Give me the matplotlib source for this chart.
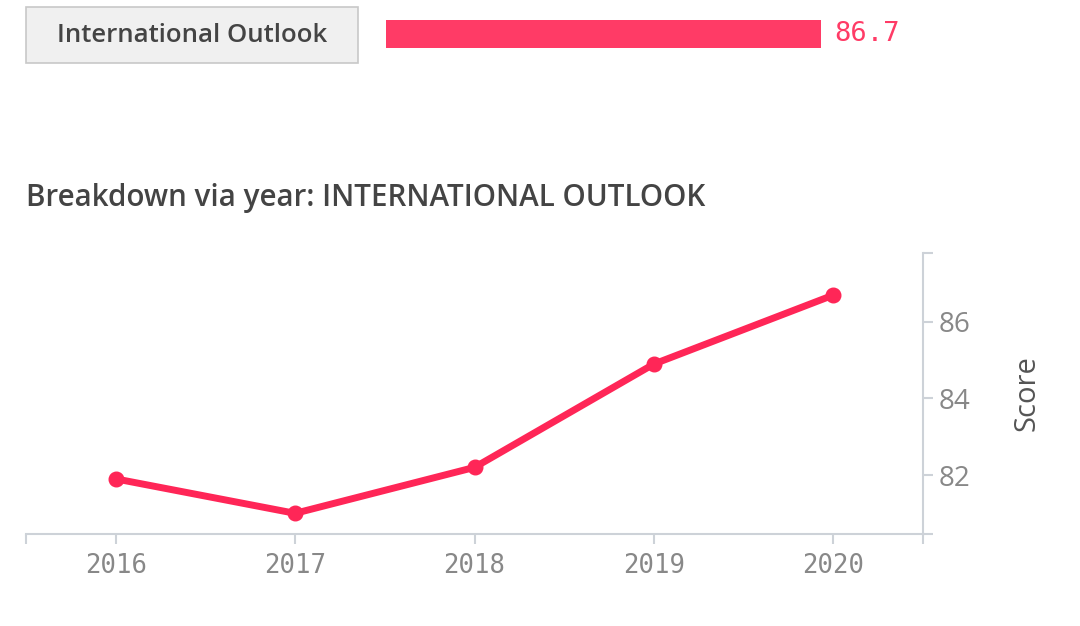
import matplotlib.pyplot as plt
from matplotlib.patches import Rectangle

years = [2016, 2017, 2018, 2019, 2020]
scores = [81.9, 81.0, 82.2, 84.9, 86.7]
y_ticks = [82, 84, 86]
overall_label = "International Outlook"
overall_score = 86.7

line_color = '#ff2657'
bar_color = '#ff3b66'
axis_color = '#cdd2d8'
tick_color = '#888888'
text_color = '#444444'

W, H = 1080, 626
fig = plt.figure(figsize=(W / 100, H / 100), dpi=100)

def fx(px):
    return px / W

def fy(py):
    return 1 - py / H

# button with the category name
fig.patches.append(Rectangle((fx(26), fy(63)), fx(358) - fx(26), fy(7) - fy(63),
                             transform=fig.transFigure, facecolor='#f0f0f0',
                             edgecolor='#c8c8c8', linewidth=1.2))
fig.text(fx(192), fy(36), overall_label, ha='center', va='center',
         fontsize=18.5, family='Open Sans', fontweight='semibold', color=text_color)

# score bar
bax = fig.add_axes([fx(386), fy(48), (fx(821) - fx(386)) / (overall_score / 100), fy(20) - fy(48)])
bax.barh([0], [overall_score], height=1, color=bar_color)
bax.set_xlim(0, 100)
bax.set_ylim(-0.5, 0.5)
bax.axis('off')
fig.text(fx(834), fy(34), f'{overall_score}', ha='left', va='center',
         fontsize=19.5, family='DejaVu Sans Mono', color=bar_color)

fig.text(fx(26), fy(198), 'Breakdown via year: INTERNATIONAL OUTLOOK', ha='left', va='center',
         fontsize=21.3, family='Open Sans', fontweight='semibold', color=text_color)

# main line chart
ax = fig.add_axes([fx(26), fy(534), fx(923) - fx(26), fy(253) - fy(534)])
ax.plot(years, scores, color=line_color, linewidth=5, marker='o', markersize=10.5,
        solid_capstyle='round', zorder=3)

ax.set_xlim(2015.5, 2020.5)
ax.set_ylim(80.46, 87.8)
ax.set_xticks(years)
ax.set_xticks([2015.5, 2020.5], minor=True)
ax.set_yticks(y_ticks)
ax.set_yticks([80.46, 87.8], minor=True)
ax.yaxis.tick_right()
ax.yaxis.set_label_position('right')

for s in ['top', 'left']:
    ax.spines[s].set_visible(False)
for s in ['right', 'bottom']:
    ax.spines[s].set_color(axis_color)
    ax.spines[s].set_linewidth(1.5)

ax.tick_params(which='both', direction='out', length=7.5, width=1.5, color=axis_color)
ax.tick_params(axis='x', labelsize=18.5, labelcolor=tick_color, pad=6)
ax.tick_params(axis='y', labelsize=20, labelcolor=tick_color, pad=4)
for lab in ax.get_xticklabels():
    lab.set_family('DejaVu Sans Mono')
for lab in ax.get_yticklabels():
    lab.set_family('Open Sans')

ax.set_ylabel('Score', fontsize=21, family='Open Sans', color='#555555', labelpad=30)
ax.set_facecolor('none')

fig.savefig('out.png', dpi=100)
